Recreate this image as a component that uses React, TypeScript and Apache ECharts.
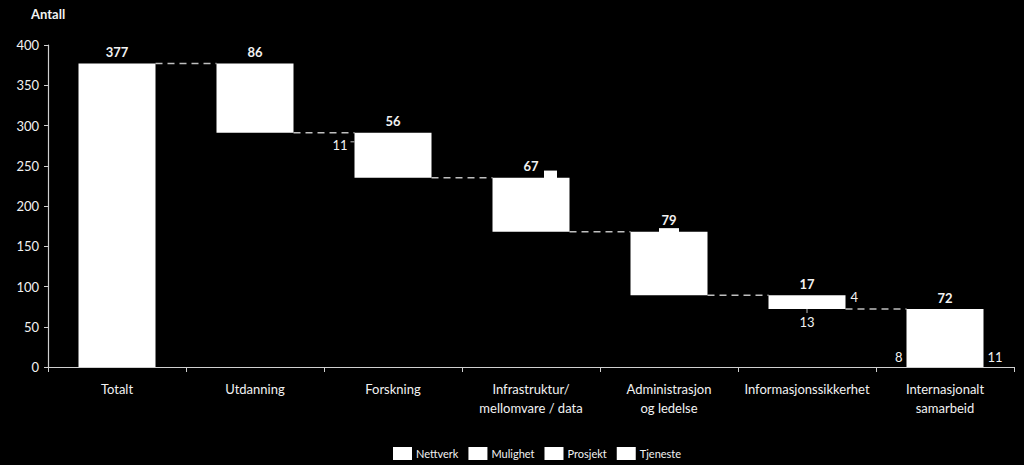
import React, { useEffect, useRef } from "react";
import * as echarts from "echarts";

const categories = [
  "Totalt",
  "Utdanning",
  "Forskning",
  "Infrastruktur/\nmellomvare / data",
  "Administrasjon\nog ledelse",
  "Informasjonssikkerhet",
  "Internasjonalt\nsamarbeid",
];
const values = [377, 86, 56, 67, 79, 17, 72];
const legendNames = ["Nettverk", "Mulighet", "Prosjekt", "Tjeneste"];
const yTicks = [0, 50, 100, 150, 200, 250, 300, 350, 400];

// small segment labels: [category index, segment value]
const smallLabelCats = [2, 5, 5, 6, 6];
const smallLabelValues = [11, 4, 13, 8, 11];

const FONT = "Lato, 'Open Sans', sans-serif";
const TXT = "#f2f2f2";

export default function App() {
  const ref = useRef<HTMLDivElement>(null);
  useEffect(() => {
    if (!ref.current) return;
    const chart = echarts.init(ref.current, undefined, { renderer: "svg" });

    const bases: number[] = [];
    let level = values[0];
    values.forEach((v, i) => {
      if (i === 0) bases.push(0);
      else {
        level -= v;
        bases.push(level);
      }
    });
    const tops = values.map((v, i) => bases[i] + v);

    const option: any = {
      animation: false,
      backgroundColor: "#000",
      textStyle: { fontFamily: FONT },
      grid: { left: 48, right: 10, top: 45, bottom: 98 },
      legend: {
        left: 388,
        top: 442,
        itemWidth: 19,
        itemHeight: 13,
        itemGap: 10,
        icon: "rect",
        data: legendNames,
        textStyle: { color: TXT, fontSize: 11, fontFamily: FONT, padding: [0, 0, 0, -1] },
      },
      xAxis: {
        type: "category",
        data: categories,
        axisLine: { lineStyle: { color: "#d0d0d0", width: 1.2 } },
        axisTick: { show: true, alignWithLabel: false, length: 5, lineStyle: { color: "#d0d0d0" } },
        axisLabel: {
          color: TXT,
          fontSize: 13,
          fontFamily: FONT,
          margin: 12,
          lineHeight: 19,
          interval: 0,
        },
      },
      yAxis: {
        type: "value",
        min: 0,
        max: yTicks[yTicks.length - 1],
        interval: yTicks[1] - yTicks[0],
        splitLine: { show: false },
        axisLine: { show: true, lineStyle: { color: "#d0d0d0", width: 1.2 } },
        axisTick: { show: true, inside: false, length: 4, lineStyle: { color: "#d0d0d0" } },
        axisLabel: { color: TXT, fontSize: 13, fontFamily: FONT, margin: 9 },
      },
      series: [
        {
          name: "base",
          type: "bar",
          stack: "w",
          z: 3,
          barWidth: 77,
          itemStyle: { color: "transparent" },
          data: bases,
          silent: true,
        },
        {
          name: legendNames[0],
          type: "bar",
          stack: "w",
          z: 3,
          barWidth: 77,
          itemStyle: { color: "#fff" },
          data: values,
          label: {
            show: true,
            position: "top",
            distance: 5,
            color: TXT,
            fontWeight: "bold",
            fontSize: 13,
            fontFamily: FONT,
          },
        },
        ...legendNames.slice(1).map((n) => ({
          name: n,
          type: "bar",
          stack: "w",
          z: 3,
          barWidth: 77,
          itemStyle: { color: "#fff" },
          data: [],
        })),
      ],
    };
    chart.setOption(option);

    // decorations computed from the library's scales
    const px = (c: number, v: number) =>
      chart.convertToPixel({ xAxisIndex: 0, yAxisIndex: 0 }, [c, v]) as number[];
    const half = 77 / 2;
    const g: any[] = [];

    // dashed connectors between bar edges
    for (let i = 0; i < values.length - 1; i++) {
      const lv = i === 0 ? tops[0] : bases[i];
      const a = px(i, lv);
      const b = px(i + 1, lv);
      g.push({
        type: "line",
        shape: { x1: a[0] + half, y1: a[1], x2: b[0] - half, y2: b[1] },
        style: { stroke: "#bfbfbf", lineWidth: 1.5, lineDash: [7, 5] },
        z: 1,
        silent: true,
      });
    }

    // small bumps above Infrastruktur and Administrasjon bars
    const b1a = px(3, tops[3] + 9);
    const b1b = px(3, tops[3]);
    g.push({ type: "rect", shape: { x: b1a[0] + 13, y: b1a[1], width: 13, height: b1b[1] - b1a[1] + 1 }, style: { fill: "#fff" }, z: 10 });
    const b2a = px(4, tops[4] + 4.5);
    const b2b = px(4, tops[4]);
    g.push({ type: "rect", shape: { x: b2a[0] - 10, y: b2a[1], width: 20, height: b2b[1] - b2a[1] + 1 }, style: { fill: "#fff" }, z: 10 });

    // small segment labels
    const lab = (i: number, x: number, y: number, align: string, vAlign: string) => {
      g.push({
        type: "text",
        x,
        y,
        style: {
          text: String(smallLabelValues[i]),
          fill: TXT,
          font: `13px ${FONT}`,
          align,
          verticalAlign: vAlign,
        },
        z: 10,
      });
    };
    // Forskning 11 (left, near top)
    let p = px(smallLabelCats[0], tops[2] - 15);
    lab(0, p[0] - half - 7, p[1], "right", "middle");
    g.push({ type: "line", shape: { x1: p[0] - half - 4, y1: p[1] - 3, x2: p[0] - half, y2: p[1] - 3 }, style: { stroke: "#bfbfbf", lineWidth: 1 }, z: 10 });
    // Informasjonssikkerhet 4 (right, top)
    p = px(smallLabelCats[1], tops[5] - 2);
    lab(1, p[0] + half + 5, p[1], "left", "middle");
    // Informasjonssikkerhet 13 (below)
    p = px(smallLabelCats[2], bases[5]);
    lab(2, p[0], p[1] + 6, "center", "top");
    g.push({ type: "line", shape: { x1: p[0], y1: p[1], x2: p[0], y2: p[1] + 4 }, style: { stroke: "#bfbfbf", lineWidth: 1 }, z: 10 });
    // Internasjonalt 8 (left, bottom) and 11 (right, bottom)
    p = px(smallLabelCats[3], 12);
    lab(3, p[0] - half - 4, p[1], "right", "middle");
    p = px(smallLabelCats[4], 12);
    lab(4, p[0] + half + 4, p[1], "left", "middle");

    // axis title
    g.push({
      type: "text",
      left: 31,
      top: 7,
      style: { text: "Antall", fill: TXT, font: `bold 13px ${FONT}` },
    });

    chart.setOption({ graphic: g });

    return () => chart.dispose();
  }, []);

  return <div ref={ref} style={{ width: 1024, height: 465, position: "absolute", left: 0, top: 0 }} />;
}
